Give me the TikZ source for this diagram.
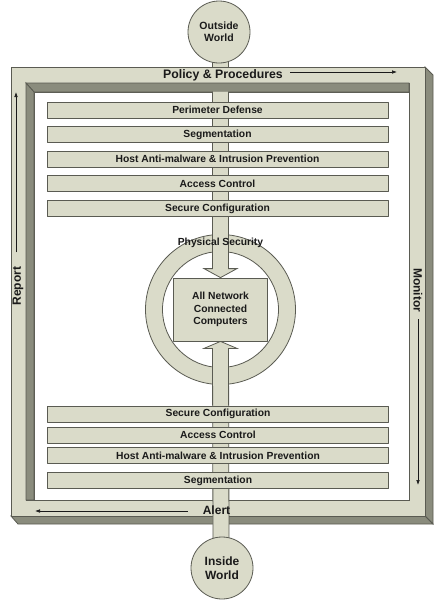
\documentclass[tikz,border=0pt]{standalone}
\usepackage{fontspec}
\setmainfont{Liberation Sans}
\usetikzlibrary{arrows.meta,calc}
\definecolor{face}{HTML}{DADBC9}
\definecolor{shade}{HTML}{8A8C7D}
\definecolor{edge}{HTML}{5A5B52}
\definecolor{ink}{HTML}{1A1A1A}
\pgfdeclarelayer{lzero}
\pgfdeclarelayer{lone}
\pgfdeclarelayer{ltwo}
\pgfsetlayers{lzero,lone,ltwo,main}
\begin{document}
\begin{tikzpicture}[x=1pt,y=-1pt,line join=round,
  outl/.style={draw=edge,line width=0.8pt},
  layer/.style={outl,fill=face,minimum width=341pt,minimum height=16pt,inner sep=0pt,font=\bfseries\fontsize{10.3}{12}\selectfont,text=ink},
  world/.style={outl,fill=face,circle,minimum size=62pt,inner sep=0pt,align=center,text=ink},
  lbl/.style={font=\bfseries\fontsize{10.3}{12}\selectfont,text=ink,inner sep=0pt},
  framelbl/.style={font=\bfseries\fontsize{12}{14}\selectfont,text=ink,inner sep=0pt},
  flow/.style={draw=ink,line width=0.6pt,-{Latex[length=5pt,width=3.6pt]}}]
\useasboundingbox (0,0) rectangle (434,600);
\begin{pgfonlayer}{lzero}
\fill[white] (0,0) rectangle (434,600);
\end{pgfonlayer}

% world circles
\node[world,font=\bfseries\fontsize{10.5}{12.3}\selectfont] (outside) at (219,32) {Outside\\World};
\node[world,font=\bfseries\fontsize{12}{13.5}\selectfont] (inside) at (222,568) {Inside\\World};

% layer bars (top)
\node[layer] (t1) at (217.5,110) {Perimeter Defense};
\node[layer] (t2) at (217.5,134.6) {Segmentation};
\node[layer] (t3) at (217.5,159.2) {Host Anti-malware \& Intrusion Prevention};
\node[layer] (t4) at (217.5,183.8) {Access Control};
\node[layer] (t5) at (217.5,208.5) {Secure Configuration};
% layer bars (bottom)
\node[layer] (b1) at (218,414) {Secure Configuration};
\node[layer] (b2) at (218,435) {Access Control};
\node[layer] (b3) at (218,455.5) {Host Anti-malware \& Intrusion Prevention};
\node[layer] (b4) at (218,480.5) {Segmentation};

% computers box
\node[outl,fill=face,minimum width=94pt,minimum height=63pt,inner sep=0pt,align=center,
  font=\bfseries\fontsize{10.3}{12.5}\selectfont,text=ink] (comp) at (220.5,309.5) {All Network\\Connected\\Computers};

% labels
\node[lbl] (phys) at (220.5,243) {Physical Security};
\node[framelbl,font=\bfseries\fontsize{12.3}{14}\selectfont] (policy) at (223,75) {Policy \& Procedures};
\node[framelbl] (alert) at (216.5,510.5) {Alert};
\node[framelbl,rotate=90] (report) at (18,286) {Report};
\node[framelbl,rotate=-90] (monitor) at (418,290) {Monitor};

% flow arrows on the frame
\coordinate (pe) at (397,72);
\coordinate (ae) at (35,511);
\coordinate (re) at (16,92);
\coordinate (me) at (418,485);
\draw[flow] (policy.east |- pe) ++(7,0) -- (pe);
\draw[flow] (alert.west |- ae) ++(-15,0) -- (ae);
\draw[flow] (report.east -| re) ++(0,-14) -- (re);
\draw[flow] (monitor.east -| me) ++(0,7) -- (me);

% ---------- background: stub and frame ----------
\begin{pgfonlayer}{lone}
  \path[outl,fill=face] ($(outside.south)+(-6.5,-8)$) rectangle ($(outside.south)+(9.5,5)$);
  % bevels
  \path[outl,fill=shade] (425,67) -- (433,75) -- (433,524) -- (425,516) -- cycle;
  \path[outl,fill=shade] (11,516) -- (18,524) -- (433,524) -- (425,516) -- cycle;
  % face
  \path[outl,fill=face,even odd rule] (11,67) rectangle (425,516) (26,83) rectangle (409,500);
  % inner white
  \path[outl,fill=white] (34,92) rectangle (409,500);
  % inner walls
  \path[outl,fill=shade] (26,83) -- (409,83) -- (409,92) -- (34,92) -- cycle;
  \path[outl,fill=shade] (26,83) -- (34,92) -- (34,500) -- (26,500) -- cycle;
\end{pgfonlayer}

% ---------- ring and pipes ----------
\begin{pgfonlayer}{ltwo}
  \path[outl,fill=face,even odd rule] (comp.center) circle[radius=75pt] (comp.center) circle[radius=58pt];
  \coordinate (tp) at (comp.north);
  \coordinate (bp) at (comp.south);
  \path[outl,fill=face]
    ($(tp)+(-8,-186)$) -- ($(tp)+(-8,-9)$) -- ($(tp)+(-16.5,-9)$) -- (tp)
    -- ($(tp)+(16.5,-9)$) -- ($(tp)+(8,-9)$) -- ($(tp)+(8,-186)$);
  \path[outl,fill=face]
    ($(inside.north)+(-9,4)$) -- ($(bp)+(-8,7)$) -- ($(bp)+(-16.5,7)$) -- (bp)
    -- ($(bp)+(16.5,7)$) -- ($(bp)+(8,7)$) -- ($(inside.north)+(7,4)$);
\end{pgfonlayer}
\end{tikzpicture}
\end{document}
